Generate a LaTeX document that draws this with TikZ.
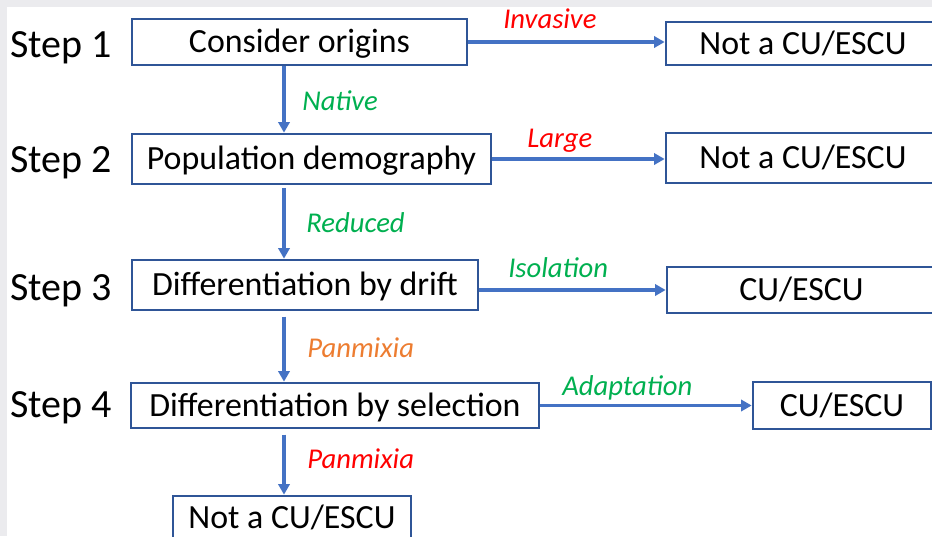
\documentclass[tikz,border=0pt]{standalone}
\usepackage{fontspec}
\setmainfont{Carlito}
\usetikzlibrary{arrows.meta}

\definecolor{boxblue}{HTML}{2F5597}
\definecolor{arrowblue}{HTML}{4472C4}
\definecolor{keepgreen}{HTML}{00B050}
\definecolor{mixorange}{HTML}{ED7D31}
\definecolor{framegrey}{HTML}{EBEBEE}

\begin{document}
\begin{tikzpicture}[x=0.75pt, y=-0.75pt,
    stepname/.style={anchor=base west, inner sep=0pt, font=\fontsize{30}{35}\selectfont},
    stage/.style={draw=boxblue, line width=2pt, inner sep=0pt, text height=16.4pt, text depth=0pt, font=\fontsize{25.4}{30}\selectfont},
    flow/.style={draw=arrowblue, line width=2.6pt, -{Triangle[length=8pt, width=8.5pt]}},
    cond/.style={anchor=base west, inner sep=0pt, font=\fontsize{21.5}{26}\selectfont\itshape}]

    % Frame
    \useasboundingbox (0,0) rectangle (932,536);
    \clip (0,0) rectangle (932,536);
    \fill[framegrey] (0,0) rectangle (932,536);
    \fill[white] (7,7) rectangle (932,536);
    \coordinate (spine) at (284,0);

    % Step names
    \node[stepname] (s1) at (10,57) {Step 1};
    \node[stepname] (s2) at (10,172) {Step 2};
    \node[stepname] (s3) at (10,300) {Step 3};
    \node[stepname] (s4) at (10,417) {Step 4};

    % Main column
    \node[stage, minimum width=251.25pt, minimum height=34.5pt] (origins) at (299.5,42) {Consider origins};
    \node[stage, minimum width=269.25pt, minimum height=37.5pt] (demog) at (311.5,159) {Population demography};
    \node[stage, minimum width=259.5pt, minimum height=37.5pt] (drift) at (305,285) {Differentiation by drift};
    \node[stage, minimum width=306pt, minimum height=33.75pt] (select) at (335,405.5) {Differentiation by selection};
    \node[stage, minimum width=178.5pt, minimum height=33pt] (notfive) at (292,518) {Not a CU/ESCU};

    % Outcomes
    \node[stage, minimum width=205.5pt, minimum height=32.25pt] (notone) at (803,43.5) {Not a CU/ESCU};
    \node[stage, minimum width=205.5pt, minimum height=37.5pt] (nottwo) at (803,158) {Not a CU/ESCU};
    \node[stage, minimum width=201.75pt, minimum height=34.5pt] (cuthree) at (801.5,290) {CU/ESCU};
    \node[stage, minimum width=133.5pt, minimum height=35.25pt] (cufour) at (842,405.5) {CU/ESCU};

    % Arrows down
    \draw[flow] (origins.south -| spine) -- (demog.north -| spine);
    \draw[flow, shorten <=2pt] (demog.south -| spine) -- (drift.north -| spine);
    \draw[flow, shorten <=4pt] (drift.south -| spine) -- (select.north -| spine);
    \draw[flow, shorten <=4pt] (select.south -| spine) -- (notfive.north -| spine);

    % Arrows across
    \draw[flow] (origins.east) -- (origins.east -| notone.west);
    \draw[flow] (demog.east) -- (demog.east -| nottwo.west);
    \draw[flow] (drift.east |- cuthree) -- (cuthree.west);
    \draw[flow] (select.east |- cufour) -- (cufour.west);

    % Conditions
    \node[cond, red] (invasive) at (503,28) {Invasive};
    \node[cond, keepgreen] (native) at (302,110) {Native};
    \node[cond, red] (large) at (527,147) {Large};
    \node[cond, keepgreen] (reduced) at (306,232) {Reduced};
    \node[cond, keepgreen] (isolation) at (508,277) {Isolation};
    \node[cond, mixorange] (panmixone) at (307,357) {Panmixia};
    \node[cond, keepgreen] (adaptation) at (562,395) {Adaptation};
    \node[cond, red] (panmixtwo) at (307,468) {Panmixia};
\end{tikzpicture}
\end{document}
